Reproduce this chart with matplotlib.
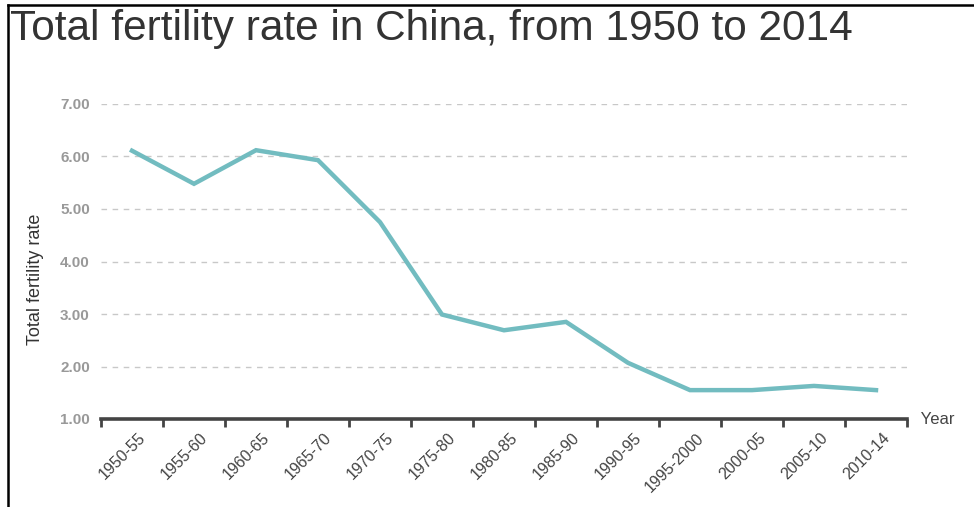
import matplotlib
matplotlib.use("Agg")
import matplotlib.pyplot as plt
from matplotlib.lines import Line2D
import matplotlib.transforms as mtransforms
import numpy as np

plt.rcParams["font.family"] = ["Liberation Sans", "DejaVu Sans"]

categories = ["1950-55", "1955-60", "1960-65", "1965-70", "1970-75", "1975-80",
              "1980-85", "1985-90", "1990-95", "1995-2000", "2000-05", "2005-10", "2010-14"]
fertility = [6.11, 5.48, 6.12, 5.93, 4.75, 2.99, 2.69, 2.85, 2.07, 1.55, 1.55, 1.63, 1.55]
y_ticks = [1.0, 2.0, 3.0, 4.0, 5.0, 6.0, 7.0]

W, H = 974, 507
fig = plt.figure(figsize=(W / 100, H / 100), dpi=100)
fig.patch.set_facecolor("white")

left, right = 101 / W, 907 / W
bottom, top = 1 - 419 / H, 1 - 104 / H
ax = fig.add_axes([left, bottom, right - left, top - bottom])

n = len(categories)
x = np.arange(n) + 0.5
ax.plot(x, fertility, color="#72bcc0", lw=3.2, solid_joinstyle="miter", zorder=3)

ax.set_xlim(0, n)
ax.set_ylim(1, 7)

# grid
ax.set_yticks(y_ticks)
ax.set_yticklabels([f"{v:.2f}" for v in y_ticks])
for v in y_ticks[1:]:
    ax.axhline(v, color="#c8c8c8", lw=1, ls=(0, (4, 4)), zorder=1)

for s in ["top", "right", "left"]:
    ax.spines[s].set_visible(False)
ax.spines["bottom"].set_color("#444444")
ax.spines["bottom"].set_linewidth(2.6)

ax.tick_params(axis="y", length=0, pad=8, labelsize=11, labelcolor="#999999")
for lab in ax.get_yticklabels():
    lab.set_fontweight("bold")

ax.set_xticks(x)
ax.set_xticklabels(categories, rotation=45, ha="right", va="top",
                   rotation_mode="anchor", fontsize=11.5, color="#444444")
ax.set_xticks(np.arange(n + 1), minor=True)
ax.tick_params(axis="x", which="major", length=0, pad=8)
ax.tick_params(axis="x", which="minor", length=6, width=2, color="#444444")
offset = mtransforms.ScaledTranslation(6 / 100, 0, fig.dpi_scale_trans)
for lab in ax.get_xticklabels():
    lab.set_transform(lab.get_transform() + offset)

ax.text(1.0, 0.0, "   Year", transform=ax.transAxes, ha="left", va="center",
        fontsize=12, color="#444444")

fig.text(35 / W, 1 - 279 / H, "Total fertility rate", rotation=90,
         ha="center", va="center", fontsize=13, color="#333333")

fig.text(10 / W, 1 - 40 / H, "Total fertility rate in China, from 1950 to 2014",
         ha="left", va="baseline", fontsize=30.5, color="#333333")

# screenshot frame lines
fig.add_artist(Line2D([8 / W, 8 / W], [0, 1 - 5 / H], transform=fig.transFigure,
                      color="black", lw=1.8))
fig.add_artist(Line2D([8 / W, 1], [1 - 5 / H, 1 - 5 / H], transform=fig.transFigure,
                      color="black", lw=1.8))

fig.savefig("out.png", dpi=100, facecolor="white")
